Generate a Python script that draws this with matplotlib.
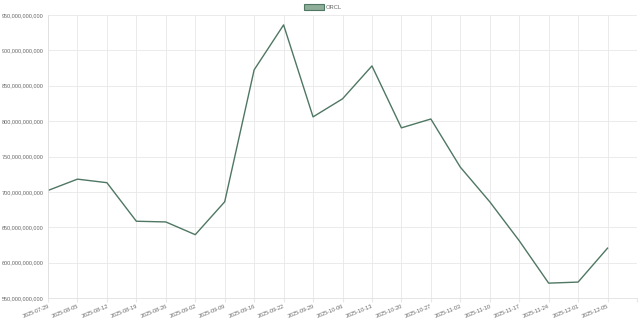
import matplotlib.pyplot as plt
from matplotlib.ticker import FuncFormatter
from matplotlib.patches import Patch

dates = ['2025-07-29', '2025-08-05', '2025-08-12', '2025-08-19', '2025-08-26',
         '2025-09-02', '2025-09-09', '2025-09-16', '2025-09-22', '2025-09-29',
         '2025-10-06', '2025-10-13', '2025-10-20', '2025-10-27', '2025-11-03',
         '2025-11-10', '2025-11-17', '2025-11-24', '2025-12-01', '2025-12-05']
# market cap in billions
orcl = [702, 718, 713, 658.5, 657.5, 639.5, 686, 872.5, 936, 806,
        831.5, 878, 790.5, 803, 735, 686, 631, 571, 572.5, 620.5]

plt.rcParams['font.family'] = ['Liberation Sans', 'DejaVu Sans']

fig = plt.figure(figsize=(6.4, 3.2), dpi=100)
ax = fig.add_axes([48 / 640, 1 - 298 / 320, (637 - 48) / 640, (298 - 15) / 320])

x = list(range(len(dates)))
vals = [v * 1e9 for v in orcl]
ax.plot(x, vals, color='#4f7763', linewidth=1.0)

ax.set_xlim(0, 20)
ax.set_ylim(550e9, 950e9)
ax.set_yticks([550e9 + i * 50e9 for i in range(9)])
ax.yaxis.set_major_formatter(FuncFormatter(lambda v, p: f'{v:,.0f}'))
ax.set_xticks(x + [20])
ax.set_xticklabels(dates + [''], rotation=22, ha='right', rotation_mode='anchor')

ax.grid(True, color='#e8e8e8', linewidth=0.6)
ax.set_axisbelow(True)
for s in ['top', 'right']:
    ax.spines[s].set_visible(False)
for s in ['left', 'bottom']:
    ax.spines[s].set_color('#e0e0e0')
    ax.spines[s].set_linewidth(0.6)
ax.tick_params(colors='#666666', labelsize=4, length=0, pad=3)
ax.tick_params(axis='x', length=3, color='#e8e8e8', pad=1)

handle = Patch(facecolor='#8fae9a', edgecolor='#4f7763', linewidth=0.8)
fig.legend([handle], ['ORCL'], loc='upper center', bbox_to_anchor=(0.505, 1.005),
           frameon=False, fontsize=4.2, handlelength=3.4, handleheight=1.2,
           labelcolor='#666666', handletextpad=0.4)

fig.savefig('out.png', dpi=100, facecolor='white')
